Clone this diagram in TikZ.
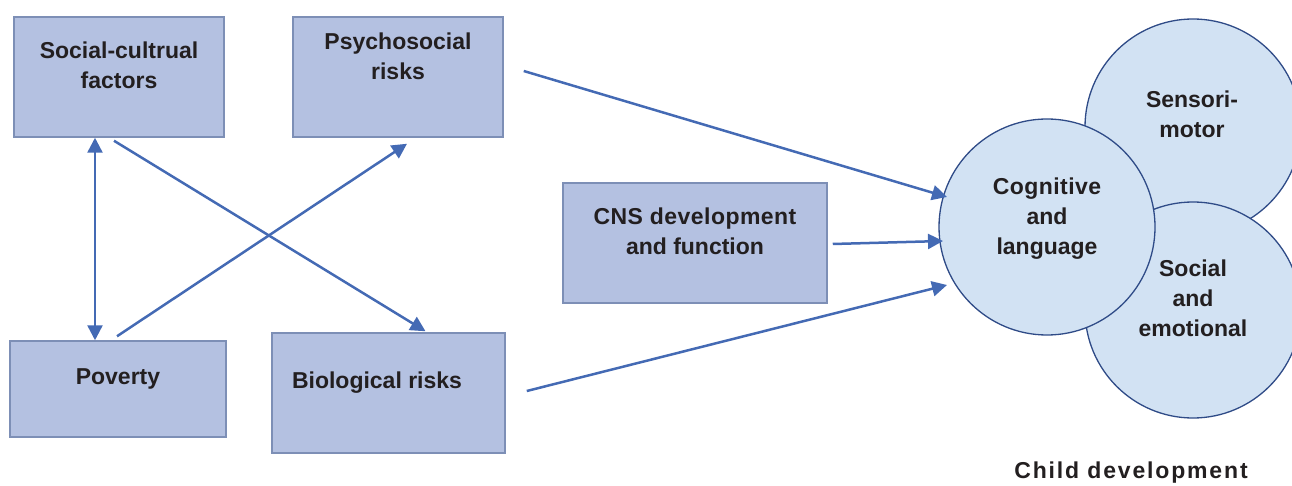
\documentclass[tikz,border=0pt]{standalone}
\usepackage{fontspec}
\setmainfont{Liberation Sans}
\usetikzlibrary{arrows.meta,calc}

\definecolor{boxfill}{RGB}{180,193,225}
\definecolor{boxline}{RGB}{125,143,182}
\definecolor{arrowblue}{RGB}{68,106,180}
\definecolor{circfill}{RGB}{210,226,243}
\definecolor{circline}{RGB}{47,75,135}
\definecolor{ink}{RGB}{35,31,32}

\tikzset{
  factorbox/.style={rectangle, draw=boxline, fill=boxfill, line width=1.5pt, inner sep=0pt},
  areacirc/.style={circle, draw=circline, fill=circfill, line width=1.3pt, inner sep=0pt, minimum size=216pt},
  caption/.style={inner sep=0pt, align=center, text=ink,
    font=\fontsize{23}{30}\selectfont\bfseries},
  link/.style={draw=arrowblue, line width=2.5pt,
    arrows={-Triangle[length=15pt,width=15pt]}},
  bilink/.style={draw=arrowblue, line width=2.5pt,
    arrows={Triangle[length=15pt,width=15pt]-Triangle[length=15pt,width=15pt]}}
}

\begin{document}
\begin{tikzpicture}[x=1pt,y=-1pt]
\useasboundingbox (0,0) rectangle (1292,486);

% influencing factors
\node[factorbox, minimum width=210pt, minimum height=120pt] (soc) at (119,77) {};
\node[factorbox, minimum width=210pt, minimum height=120pt] (psy) at (398,77) {};
\node[factorbox, minimum width=216pt, minimum height=96pt]  (pov) at (118,389) {};
\node[factorbox, minimum width=233pt, minimum height=120pt] (bio) at (388.5,393) {};
\node[factorbox, minimum width=264pt, minimum height=120pt] (cns) at (695,243) {};

\node[caption] (socT) at (119,65)  {Social-cultrual\\factors};
\node[caption] (psyT) at (398,56)  {Psychosocial\\risks};
\node[caption] (povT) at (118,379) {Poverty};
\node[caption] (bioT) at (377,383) {Biological risks};
\node[caption] (cnsT) at (695,231.5) {\addfontfeatures{LetterSpace=2}CNS development\\and function};

% areas of child development
\node[areacirc] (sen) at (1193,127) {};
\node[areacirc] (soe) at (1193,310) {};
\node[areacirc] (cog) at (1047,227) {};

\node[caption] (senT) at (1192,114.5) {Sensori-\\motor};
\node[caption] (soeT) at (1193,298.5) {Social\\and\\emotional};
\node[caption] (cogT) at (1047,218.5) {\addfontfeatures{LetterSpace=2}Cognitive\\and\\language};

\node[caption] (child) at (1131,473) {\addfontfeatures{LetterSpace=8}Child development};

% influences
\draw[bilink] (soc.south -| 95,0) -- (pov.north -| 95,0);
\draw[link] ($(soc.south)+(-5,3)$) -- ($(bio.north)+(37,-1)$);
\draw[link] ($(pov.north)+(-1,-4)$) -- ($(psy.south)+(9,6)$);
\draw[link] ($(psy.east)+(20,-6)$) -- ($(cog.center)+(-100,-30)$);
\draw[link] ($(cns.east)+(5,1)$) -- ($(cog.center)+(-104,14)$);
\draw[link] ($(bio.east)+(21,-2)$) -- ($(cog.center)+(-100,58)$);
\end{tikzpicture}
\end{document}
